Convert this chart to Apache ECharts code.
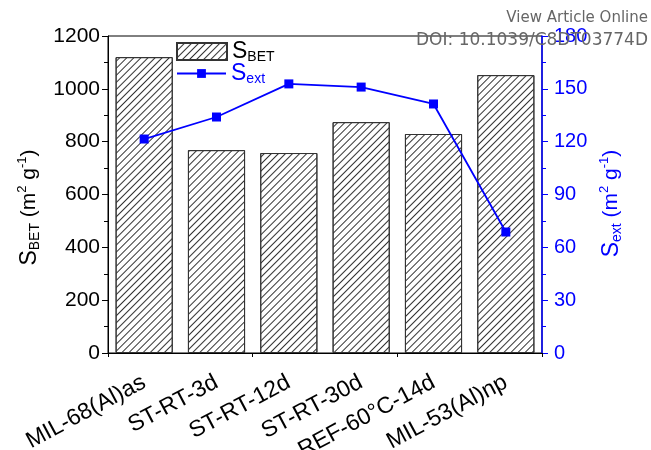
<!DOCTYPE html>
<html>
<head>
<meta charset="utf-8">
<script src="https://cdn.jsdelivr.net/npm/echarts@6/dist/echarts.min.js"></script>
<style>
  html, body { margin: 0; padding: 0; background: #fff; }
  #chart { width: 651px; height: 450px; }
</style>
</head>
<body>
<div id="chart"></div>
<script>
// Samples and measured surface areas
const categories = ['MIL-68(Al)as', 'ST-RT-3d', 'ST-RT-12d', 'ST-RT-30d', 'REF-60°C-14d', 'MIL-53(Al)np'];
const sBET = [1120, 768, 757, 874, 829, 1052];          // m2/g, left axis
const sExt = [121.5, 134, 152.8, 151, 141.4, 68.7];     // m2/g, right axis
const leftTicks = { min: 0, max: 1200, interval: 200 };
const rightTicks = { min: 0, max: 180, interval: 30 };

const font = 'Liberation Sans, Arial, sans-serif';
const BLUE = '#0000ff';

// Diagonal hatching used for the bars and their legend icon
const hatch = {
  symbol: 'rect',
  symbolSize: 1,
  color: '#333',
  dashArrayX: [1, 0],
  dashArrayY: [1, 4],
  rotation: -Math.PI / 4
};

function nameRich(color) {
  return {
    s: { fontSize: 23, fontFamily: font, color: color, lineHeight: 26 },
    p: { fontSize: 21, fontFamily: font, color: color, lineHeight: 26 },
    sub: { fontSize: 14, fontFamily: font, color: color, verticalAlign: 'bottom', lineHeight: 12 },
    sup: { fontSize: 13, fontFamily: font, color: color, verticalAlign: 'top', lineHeight: 12 }
  };
}

const chart = echarts.init(document.getElementById('chart'));

chart.setOption({
  animation: false,
  backgroundColor: '#fff',
  grid: {
    left: 108, right: 109, top: 36, bottom: 97,
    outerBoundsMode: 'none', containLabel: false,
    show: true, borderColor: '#000', borderWidth: 1
  },
  legend: [
    {
      orient: 'vertical', left: 171, top: 35,
      itemWidth: 50, itemHeight: 17,
      icon: 'rect',
      data: ['SBET'],
      formatter: () => '{s|S}{sub|BET}',
      textStyle: { rich: nameRich('#000') }
    },
    {
      orient: 'vertical', left: 171, top: 57,
      itemWidth: 49, itemHeight: 11,
      data: ['Sext'],
      formatter: () => '{s|S}{sub|ext}',
      textStyle: { rich: nameRich(BLUE) }
    }
  ],
  xAxis: [
    {
      type: 'category', data: categories, position: 'bottom',
      axisLine: { lineStyle: { color: '#000', width: 1 } },
      axisTick: { alignWithLabel: true, length: 6, lineStyle: { color: '#000' } },
      axisLabel: { rotate: 28, fontSize: 23, fontFamily: font, color: '#000', margin: 28, interval: 0 }
    },
    {
      type: 'category', data: categories, position: 'bottom',
      axisLine: { show: false },
      axisTick: { show: true, length: 4, lineStyle: { color: '#000' } },
      axisLabel: { show: false }
    }
  ],
  yAxis: [
    {
      type: 'value', min: leftTicks.min, max: leftTicks.max, interval: leftTicks.interval,
      position: 'left',
      name: '{s|S}{sub|BET}{p| (m}{sup|2}{p| g}{sup|-1}{p|)}',
      nameLocation: 'middle', nameRotate: 90, nameGap: 65,
      nameTextStyle: { rich: nameRich('#000'), padding: [0, 26, 0, 0] },
      axisLine: { show: true, lineStyle: { color: '#000' } },
      axisTick: { show: true, length: 6, lineStyle: { color: '#000' } },
      minorTick: { show: true, splitNumber: 2, length: 4, lineStyle: { color: '#000' } },
      splitLine: { show: false },
      axisLabel: { fontSize: 21, fontFamily: font, color: '#000', margin: 8, formatter: v => String(v) }
    },
    {
      type: 'value', min: rightTicks.min, max: rightTicks.max, interval: rightTicks.interval,
      position: 'right',
      name: '{s|S}{sub|ext}{p| (m}{sup|2}{p| g}{sup|-1}{p|)}',
      nameLocation: 'middle', nameRotate: 90, nameGap: 52,
      nameTextStyle: { rich: nameRich(BLUE), padding: [0, 18, 0, 0] },
      axisLine: { show: true, lineStyle: { color: BLUE, width: 1.5 } },
      axisTick: { show: true, length: 6, lineStyle: { color: BLUE } },
      minorTick: { show: true, splitNumber: 2, length: 4, lineStyle: { color: BLUE } },
      splitLine: { show: false },
      axisLabel: { fontSize: 20, fontFamily: font, color: BLUE, margin: 12 }
    }
  ],
  series: [
    {
      name: 'SBET', type: 'bar', data: sBET, xAxisIndex: 0, yAxisIndex: 0,
      barCategoryGap: '21%',
      itemStyle: { color: '#fff', borderColor: '#333', borderWidth: 1, decal: hatch },
      z: 2
    },
    {
      name: 'Sext', type: 'line', data: sExt, xAxisIndex: 0, yAxisIndex: 1,
      symbol: 'rect', symbolSize: 9,
      lineStyle: { color: BLUE, width: 1.8 },
      itemStyle: { color: BLUE },
      z: 5
    }
  ],
  graphic: [
    {
      type: 'text', right: 3, top: 11, z: 100,
      style: { text: 'View Article Online', fontSize: 15, fontFamily: 'DejaVu Sans, sans-serif', fill: '#666' }
    },
    {
      type: 'text', right: 3, top: 32, z: 100,
      style: { text: 'DOI: 10.1039/C8DT03774D', fontSize: 17, fontFamily: 'DejaVu Sans, sans-serif', fill: '#666' }
    }
  ]
});
</script>
</body>
</html>
